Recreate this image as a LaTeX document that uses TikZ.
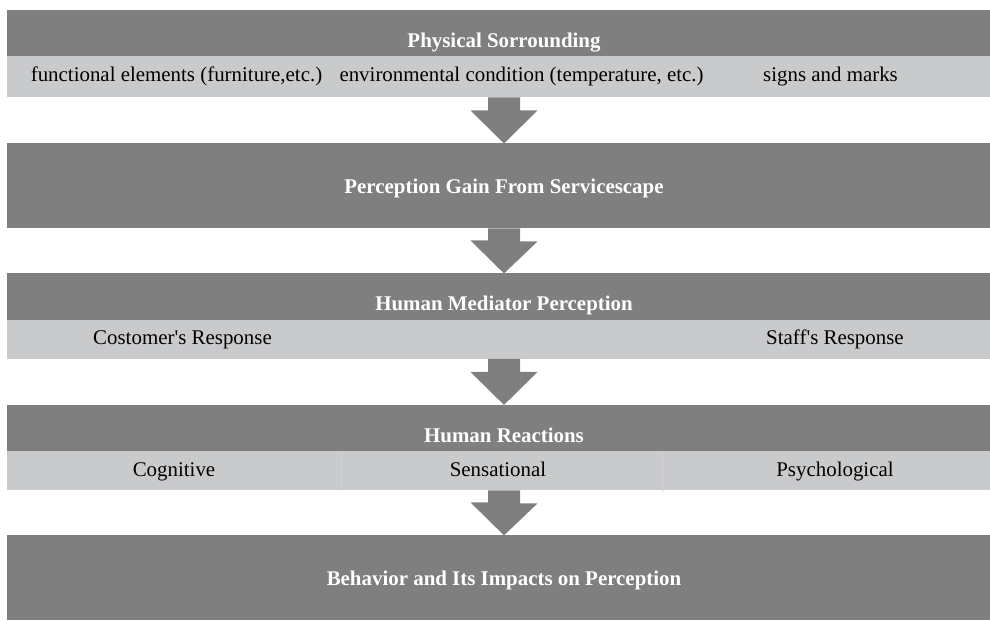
\documentclass[tikz,border=0pt]{standalone}
\usepackage{fontspec}
\setmainfont{Liberation Serif}
\usetikzlibrary{positioning}

\definecolor{headgray}{RGB}{127,127,127}
\definecolor{rowgray}{RGB}{201,202,204}

\begin{document}
\begin{tikzpicture}[x=0.02cm, y=-0.02cm,
    font=\fontsize{11.9}{14}\selectfont,
    headband/.style={fill=headgray, text=white, font=\fontsize{11.9}{14}\selectfont\bfseries, minimum width=19.88cm, inner sep=0pt, outer sep=0pt},
    tophead/.style={headband, minimum height=0.93cm, text height=0.62cm, text depth=0.05cm},
    bighead/.style={headband, minimum height=1.7cm, text height=0.34cm, text depth=0.05cm},
    rowband/.style={fill=rowgray, minimum width=19.88cm, minimum height=#1, inner sep=0pt, outer sep=0pt},
    rowtext/.style={inner sep=0pt, text height=0.7em, text depth=0.22em}
]

    \useasboundingbox (0,0) rectangle (990,621);

    % Physical surrounding
    \node[tophead, anchor=north] (phys) at (504,10) {Physical Sorrounding};
    \node[rowband=0.82cm, below=0pt of phys] (physrow) {};
    \node[rowtext] (functional) at (176.5,77) {functional elements (furniture,etc.)};
    \node[rowtext] (environ) at (521.5,77) {environmental condition (temperature, etc.)};
    \node[rowtext] (signs) at (830.5,77) {signs and marks};

    % Perception gain
    \node[bighead, below=0.92cm of physrow] (gain) {Perception Gain From Servicescape};

    % Human mediator
    \node[tophead, below=0.9cm of gain] (mediator) {Human Mediator Perception};
    \node[rowband=0.78cm, below=0pt of mediator] (mediatorrow) {};
    \node[rowtext] (customer) at (182.5,340) {Costomer\textquotesingle s Response};
    \node[rowtext] (staff) at (835,340) {Staff\textquotesingle s Response};

    % Human reactions
    \node[tophead, below=0.92cm of mediatorrow] (reaction) {Human Reactions};
    \node[rowband=0.78cm, below=0pt of reaction] (reactionrow) {};
    \node[rowtext] (cognitive) at (174,472) {Cognitive};
    \node[rowtext] (sensational) at (498,472) {Sensational};
    \node[rowtext] (psycho) at (835,472) {Psychological};
    \draw[white!12!rowgray, ultra thin] (341,452) -- (341,490.5);
    \draw[white!12!rowgray, ultra thin] (663,452) -- (663,490.5);

    % Behavior
    \node[bighead, below=0.9cm of reactionrow] (behavior) {Behavior and Its Impacts on Perception};

    % Block arrows
    \foreach \from/\to in {physrow/gain, gain/mediator, mediatorrow/reaction, reactionrow/behavior} {
      \fill[headgray] (\from.south) ++(-16,0) -- ++(32,0) -- ++(0,13) -- ++(17.5,0)
        -- (\to.north) -- ++(-33.5,-33) -- ++(17.5,0) -- cycle;
    }
\end{tikzpicture}
\end{document}
